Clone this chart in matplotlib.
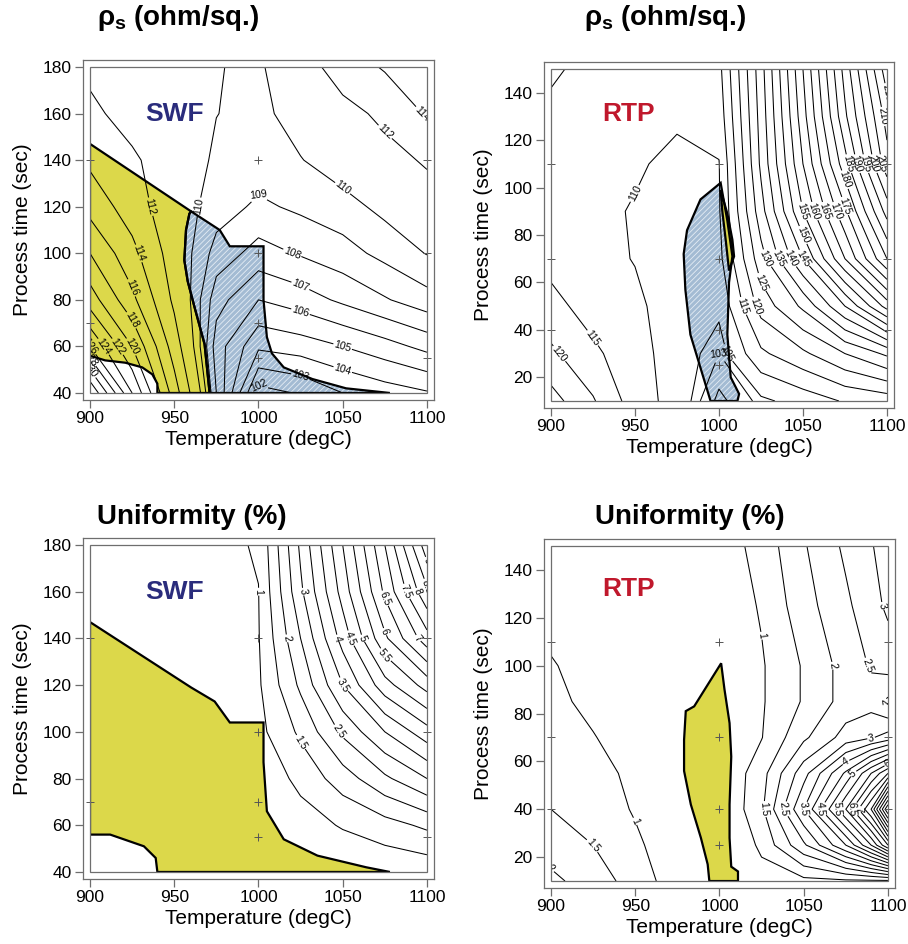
import numpy as np
import matplotlib.pyplot as plt
from matplotlib.patches import Polygon, Rectangle

plt.rcParams['font.family'] = ['Liberation Sans', 'DejaVu Sans']
plt.rcParams['mathtext.fontset'] = 'custom'
plt.rcParams['mathtext.rm'] = 'Liberation Sans'
plt.rcParams['mathtext.bf'] = 'Liberation Sans:bold'
plt.rcParams['mathtext.it'] = 'Liberation Sans:italic'
plt.rcParams['hatch.linewidth'] = 0.6

# ---- data ----
temps = [900, 925, 950, 975, 1000, 1025, 1050, 1075, 1100]
temps_fine = [900, 925, 950, 975, 1000, 1025, 1050, 1075, 1090, 1100]

# SWF sheet resistance (ohm/sq), rows = process time bottom -> top
swf_times = [40, 60, 80, 100, 120, 140, 160, 180]
swf_rs = [
    [134.0, 124.0, 115.0, 107.0, 101.6, 102.1, 103.0, 103.5, 103.9],
    [126.0, 120.0, 113.0, 106.5, 104.2, 104.5, 105.0, 105.6, 106.3],
    [121.0, 116.5, 111.6, 107.4, 106.0, 106.5, 107.2, 107.9, 108.6],
    [118.0, 114.6, 111.0, 108.6, 107.6, 108.1, 108.6, 109.3, 110.05],
    [115.3, 113.0, 110.7, 109.5, 108.8, 109.2, 109.6, 110.3, 111.2],
    [113.6, 112.3, 110.9, 109.8, 109.6, 109.95, 110.6, 111.4, 112.2],
    [112.4, 111.3, 110.6, 110.02, 109.7, 110.5, 111.4, 112.4, 114.2],
    [111.6, 111.0, 110.6, 110.05, 109.8, 111.1, 112.9, 114.2, 115.5],
]
swf_rs_levels = [102, 103, 104, 105, 106, 107, 108, 109, 110, 112, 114, 116,
                 118, 120, 122, 124, 126, 128, 130, 132]

# SWF uniformity (%)
swf_uni = [
    [0.65, 0.45, 0.30, 0.30, 0.30, 0.40, 0.50, 0.60, 0.65],
    [0.55, 0.40, 0.35, 0.40, 0.45, 0.75, 1.05, 1.30, 1.60],
    [0.50, 0.45, 0.45, 0.50, 0.60, 1.15, 1.75, 2.40, 3.00],
    [0.55, 0.55, 0.60, 0.70, 0.85, 1.60, 2.60, 3.50, 4.30],
    [0.60, 0.60, 0.65, 0.75, 0.93, 2.10, 3.50, 4.80, 5.70],
    [0.65, 0.65, 0.70, 0.80, 0.97, 2.50, 4.20, 5.90, 7.30],
    [0.70, 0.70, 0.75, 0.85, 0.99, 2.90, 4.70, 6.60, 8.40],
    [0.70, 0.70, 0.75, 0.85, 1.05, 3.10, 5.00, 7.00, 9.30],
]
swf_uni_levels = list(np.arange(1.0, 9.5, 0.5))

# RTP sheet resistance (ohm/sq)
rtp_times = [10, 30, 50, 70, 90, 110, 130, 150]
rtp_rs = [
    [127.0, 120.5, 112.5, 108.0, 99.0, 104.0, 107.0, 110.5, 112.0],
    [121.0, 116.0, 112.0, 107.5, 103.0, 114.0, 119.0, 125.0, 131.0],
    [116.5, 113.0, 111.0, 107.5, 106.0, 122.0, 131.0, 145.0, 162.0],
    [113.5, 111.5, 109.8, 107.5, 108.5, 128.0, 145.0, 165.0, 185.0],
    [112.0, 111.0, 109.7, 108.0, 109.5, 133.0, 155.0, 174.0, 197.0],
    [112.0, 111.0, 110.5, 109.0, 109.8, 136.0, 160.0, 183.0, 208.0],
    [113.5, 112.0, 111.0, 110.6, 112.0, 137.0, 163.0, 189.0, 212.0],
    [116.0, 113.0, 111.5, 111.0, 113.5, 138.0, 165.0, 192.0, 218.0],
]
rtp_rs_levels = [100, 103] + list(range(105, 220, 5))

# RTP uniformity (%)
rtp_uni_times = [10, 25, 40, 55, 70, 85, 100, 125, 150]
rtp_uni = [
    [2.10, 1.80, 1.25, 0.75, 0.40, 0.80, 0.85, 0.90, 0.90, 0.90],
    [1.80, 1.50, 1.10, 0.65, 0.40, 1.10, 2.40, 4.00, 5.50, 7.00],
    [1.50, 1.30, 0.95, 0.60, 0.45, 1.40, 3.50, 6.00, 8.00, 11.0],
    [1.35, 1.15, 0.90, 0.60, 0.50, 1.30, 2.80, 4.60, 6.00, 7.00],
    [1.20, 1.02, 0.80, 0.60, 0.50, 0.98, 1.90, 2.70, 2.95, 3.20],
    [1.10, 0.90, 0.75, 0.60, 0.55, 0.95, 1.55, 2.20, 2.30, 1.90],
    [1.03, 0.85, 0.70, 0.60, 0.60, 0.95, 1.55, 2.20, 2.55, 2.70],
    [0.85, 0.75, 0.65, 0.60, 0.65, 1.05, 1.80, 2.40, 2.80, 3.10],
    [0.80, 0.70, 0.60, 0.60, 0.70, 1.20, 1.95, 2.60, 2.95, 3.30],
]
rtp_uni_levels = list(np.arange(1.0, 11.5, 0.5))

# process windows (temperature, time)
swf_rs_yellow = [(900, 147), (960, 118), (959, 117), (957, 110), (956, 97), (958, 88),
                 (962, 77), (968, 61), (971, 40), (940, 40), (940, 44), (937, 48),
                 (931, 51), (921, 53), (909, 54), (900, 56)]
swf_rs_blue = [(960, 118), (977, 110), (983, 103), (1003, 103), (1003, 80), (1005, 64),
               (1008, 57), (1015, 51), (1032, 46), (1052, 42), (1078, 40), (971, 40),
               (968, 61), (962, 77), (958, 88), (956, 97), (957, 110), (959, 117)]
swf_uni_yellow = [(900, 147), (960, 119), (974, 113), (983, 104), (1003, 104), (1003, 87),
                  (1005, 66), (1015, 54), (1035, 47), (1064, 42), (1078, 40), (940, 40),
                  (939, 46), (932, 51), (912, 56), (900, 56)]
rtp_rs_blue = [(1001, 102), (989, 95), (981, 82), (979, 72), (980, 57), (983, 38),
               (989, 24), (995, 10), (1011, 10), (1012, 13), (1007, 20), (1005, 38),
               (1006, 60), (1008, 71), (1005, 86)]
rtp_rs_yellow = [(1001, 99), (1005, 89), (1008, 78), (1009, 71), (1006, 65),
                 (1004, 78), (1002, 90)]
rtp_uni_yellow = [(1001, 101), (993, 92), (985, 83), (980, 81), (979, 69), (979, 56),
                  (983, 42), (989, 28), (993, 17), (994, 10), (1011, 10), (1011, 14),
                  (1007, 16), (1006, 28), (1006, 42), (1007, 62), (1006, 76), (1003, 90)]

# experiment design points
swf_design = [(1000, 140), (1000, 100), (1000, 70), (1000, 55), (900, 140),
              (900, 70), (1100, 140), (1100, 100), (1100, 55)]
rtp_design = [(1000, 110), (1000, 70), (1000, 40), (1000, 25), (900, 110),
              (900, 70), (900, 40), (1100, 110), (1100, 70), (1100, 40)]

YELLOW = '#dcd84a'
BLUE = '#a3bbd3'
FRAME = '#6e6e6e'

fig = plt.figure(figsize=(9.08, 9.44), dpi=100)


def panel(rect, T, t, Z, levels, ylim, yticks, fills, design, tag, tag_color, tag_xy,
          max_label=None):
    ax = fig.add_axes(rect)
    for verts, kind in fills:
        if kind == 'blue':
            ax.add_patch(Polygon(verts, closed=True, facecolor=BLUE, edgecolor='#e4ecf4',
                                 hatch='//////', lw=0, zorder=1))
        else:
            ax.add_patch(Polygon(verts, closed=True, facecolor=YELLOW, lw=0, zorder=1))
    cs = ax.contour(T, t, np.array(Z), levels=levels, colors='k', linewidths=0.75,
                    zorder=2)
    lab = [lv for lv in levels if max_label is None or lv <= max_label]
    ax.clabel(cs, lab, fmt='%g', fontsize=7.5, inline=True, inline_spacing=1)
    for verts, kind in fills:
        ax.add_patch(Polygon(verts, closed=True, fill=False, edgecolor='k', lw=1.6,
                             zorder=3))
    dx, dy = zip(*design)
    ax.plot(dx, dy, '+', color='#555555', ms=6, mew=0.7, clip_on=False, zorder=4)
    ax.text(tag_xy[0], tag_xy[1], tag, color=tag_color, fontsize=19,
            fontweight='bold', ha='center', va='center', zorder=5)

    ax.set_xlim(900, 1100)
    ax.set_ylim(*ylim)
    ax.set_xticks([900, 950, 1000, 1050, 1100])
    ax.set_yticks(yticks)

    # double frame: inner box at data limits, outer box drawn by the spines
    off_px = 7
    w_px = rect[2] * fig.get_figwidth() * fig.dpi
    h_px = rect[3] * fig.get_figheight() * fig.dpi
    ex = off_px * 200 / w_px
    ey = off_px * (ylim[1] - ylim[0]) / h_px
    for side in ['left', 'right', 'top', 'bottom']:
        sp = ax.spines[side]
        sp.set_position(('outward', off_px * 72 / fig.dpi))
        sp.set_color(FRAME)
        sp.set_linewidth(0.9)
        if side in ('left', 'right'):
            sp.set_bounds(ylim[0] - ey, ylim[1] + ey)
        else:
            sp.set_bounds(900 - ex, 1100 + ex)
    ax.add_patch(Rectangle((0, 0), 1, 1, transform=ax.transAxes, fill=False,
                           edgecolor=FRAME, lw=0.9, zorder=6, clip_on=False))

    ax.tick_params(direction='out', length=6, width=0.9, color=FRAME,
                   labelsize=12.5, pad=2)
    ax.set_xlabel('Temperature (degC)', fontsize=15, labelpad=3)
    ax.set_ylabel('Process time (sec)', fontsize=15, labelpad=8)
    return ax


panel([0.0991, 0.5837, 0.3711, 0.3453], temps, swf_times, swf_rs, swf_rs_levels,
      (40, 180), [40, 60, 80, 100, 120, 140, 160, 180],
      [(swf_rs_yellow, 'yellow'), (swf_rs_blue, 'blue')], swf_design,
      'SWF', '#2a2c7c', (950, 160))
panel([0.6068, 0.5752, 0.3700, 0.3517], temps, rtp_times, rtp_rs, rtp_rs_levels,
      (10, 150), [20, 40, 60, 80, 100, 120, 140],
      [(rtp_rs_blue, 'blue'), (rtp_rs_yellow, 'yellow')], rtp_design,
      'RTP', '#c0182c', (946, 131))
panel([0.0991, 0.0763, 0.3711, 0.3464], temps, swf_times, swf_uni, swf_uni_levels,
      (40, 180), [40, 60, 80, 100, 120, 140, 160, 180],
      [(swf_uni_yellow, 'yellow')], swf_design,
      'SWF', '#2a2c7c', (950, 160))
panel([0.6068, 0.0667, 0.3711, 0.3549], temps_fine, rtp_uni_times, rtp_uni, rtp_uni_levels,
      (10, 150), [20, 40, 60, 80, 100, 120, 140],
      [(rtp_uni_yellow, 'yellow')], rtp_design,
      'RTP', '#c0182c', (946, 132), max_label=7)

title_kw = dict(fontsize=20, fontweight='bold', ha='center', va='center')
fig.text(0.196, 0.981, r'$\mathbf{\rho_s}$ (ohm/sq.)', **title_kw)
fig.text(0.732, 0.981, r'$\mathbf{\rho_s}$ (ohm/sq.)', **title_kw)
fig.text(0.2115, 0.4523, 'Uniformity (%)', **title_kw)
fig.text(0.760, 0.4523, 'Uniformity (%)', **title_kw)

fig.savefig('out.png', dpi=100)
